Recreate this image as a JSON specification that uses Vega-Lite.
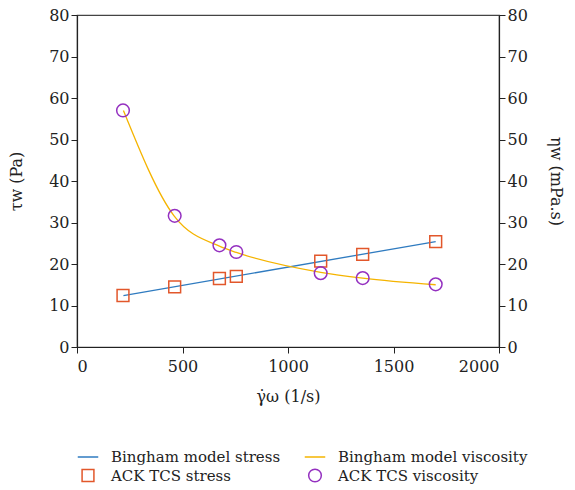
{
  "$schema": "https://vega.github.io/schema/vega-lite/v6.json",
  "autosize": {"type": "none"},
  "width": 422,
  "height": 332,
  "padding": {"left": 77, "top": 15, "right": 76, "bottom": 143},
  "background": "white",
  "config": {
    "font": "DejaVu Serif",
    "view": {"stroke": "#444", "strokeWidth": 1.2},
    "axis": {
      "grid": false,
      "domainColor": "#222",
      "domainWidth": 1.2,
      "tickColor": "#222",
      "tickSize": 6,
      "labelFont": "DejaVu Serif",
      "labelFontSize": 16,
      "labelColor": "#222",
      "titleFont": "DejaVu Serif",
      "titleFontSize": 16,
      "titleFontWeight": "normal",
      "titleColor": "#222"
    },
    "legend": {
      "labelFont": "DejaVu Serif",
      "labelFontSize": 15,
      "labelColor": "#222"
    }
  },
  "data": {
    "values": [
      {"x": 220, "v": 12.4, "series": "Bingham model stress"},
      {"x": 1700, "v": 25.4, "series": "Bingham model stress"},
      {"x": 220, "v": 57.0, "series": "Bingham model viscosity"},
      {"x": 460, "v": 31.6, "series": "Bingham model viscosity"},
      {"x": 680, "v": 24.2, "series": "Bingham model viscosity"},
      {"x": 755, "v": 22.8, "series": "Bingham model viscosity"},
      {"x": 1155, "v": 18.0, "series": "Bingham model viscosity"},
      {"x": 1354, "v": 16.6, "series": "Bingham model viscosity"},
      {"x": 1700, "v": 15.0, "series": "Bingham model viscosity"},
      {"x": 218, "v": 12.4, "series": "ACK TCS stress"},
      {"x": 463, "v": 14.5, "series": "ACK TCS stress"},
      {"x": 675, "v": 16.5, "series": "ACK TCS stress"},
      {"x": 755, "v": 17.0, "series": "ACK TCS stress"},
      {"x": 1155, "v": 20.7, "series": "ACK TCS stress"},
      {"x": 1354, "v": 22.3, "series": "ACK TCS stress"},
      {"x": 1700, "v": 25.4, "series": "ACK TCS stress"},
      {"x": 218, "v": 57.0, "series": "ACK TCS viscosity"},
      {"x": 463, "v": 31.6, "series": "ACK TCS viscosity"},
      {"x": 675, "v": 24.5, "series": "ACK TCS viscosity"},
      {"x": 755, "v": 22.9, "series": "ACK TCS viscosity"},
      {"x": 1155, "v": 17.8, "series": "ACK TCS viscosity"},
      {"x": 1354, "v": 16.6, "series": "ACK TCS viscosity"},
      {"x": 1700, "v": 15.1, "series": "ACK TCS viscosity"}
    ]
  },
  "encoding": {
    "x": {
      "field": "x", "type": "quantitative",
      "scale": {"domain": [0, 2000], "nice": false},
      "axis": {"values": [0, 500, 1000, 1500, 2000], "format": "d", "title": "γ̇ω (1/s)", "titlePadding": 14, "labelPadding": 5}
    }
  },
  "layer": [
    {
      "transform": [{"filter": "datum.series == 'Bingham model stress' || datum.series == 'ACK TCS stress'"}],
      "encoding": {
        "y": {
          "field": "v", "type": "quantitative",
          "scale": {"domain": [0, 80], "nice": false},
          "axis": {"orient": "left", "values": [0, 10, 20, 30, 40, 50, 60, 70, 80], "title": "τw (Pa)", "titlePadding": 24}
        }
      },
      "layer": [
        {
          "transform": [{"filter": "datum.series == 'Bingham model stress'"}],
          "mark": {"type": "line", "strokeWidth": 1.3, "color": "#2f7bc0"},
          "encoding": {}
        },
        {
          "transform": [{"filter": "datum.series == 'ACK TCS stress'"}],
          "mark": {"type": "point", "filled": false, "strokeWidth": 1.5, "opacity": 1},
          "encoding": {
            "color": {"field": "series", "type": "nominal",
              "scale": {"domain": ["Bingham model stress", "Bingham model viscosity", "ACK TCS stress", "ACK TCS viscosity"], "range": ["#2f7bc0", "#f5b400", "#e2572b", "#9430c0"]},
              "legend": {"orient": "bottom", "columns": 2, "title": null, "offset": 42, "columnPadding": 20, "rowPadding": 1, "labelOffset": 12, "labelLimit": 400, "labelFont": "DejaVu Serif", "labelFontSize": 15, "symbolStrokeWidth": 1.5, "symbolFillColor": "transparent"}},
            "shape": {"field": "series", "type": "nominal",
              "scale": {"domain": ["Bingham model stress", "Bingham model viscosity", "ACK TCS stress", "ACK TCS viscosity"], "range": ["stroke", "stroke", "square", "circle"]}},
            "size": {"field": "series", "type": "nominal",
              "scale": {"type": "ordinal", "domain": ["Bingham model stress", "Bingham model viscosity", "ACK TCS stress", "ACK TCS viscosity"], "range": [420, 420, 140, 160]}}
          }
        }
      ]
    },
    {
      "transform": [{"filter": "datum.series == 'Bingham model viscosity' || datum.series == 'ACK TCS viscosity'"}],
      "encoding": {
        "y": {
          "field": "v", "type": "quantitative",
          "scale": {"domain": [0, 80], "nice": false},
          "axis": {"orient": "right", "values": [0, 10, 20, 30, 40, 50, 60, 70, 80], "title": "ηw (mPa.s)", "titlePadding": 20}
        }
      },
      "layer": [
        {
          "transform": [{"filter": "datum.series == 'Bingham model viscosity'"}],
          "mark": {"type": "line", "strokeWidth": 1.3, "interpolate": "monotone", "color": "#f5b400"},
          "encoding": {}
        },
        {
          "transform": [{"filter": "datum.series == 'ACK TCS viscosity'"}],
          "mark": {"type": "point", "filled": false, "strokeWidth": 1.5, "opacity": 1},
          "encoding": {
            "color": {"field": "series", "type": "nominal",
              "scale": {"domain": ["Bingham model stress", "Bingham model viscosity", "ACK TCS stress", "ACK TCS viscosity"], "range": ["#2f7bc0", "#f5b400", "#e2572b", "#9430c0"]}},
            "shape": {"field": "series", "type": "nominal",
              "scale": {"domain": ["Bingham model stress", "Bingham model viscosity", "ACK TCS stress", "ACK TCS viscosity"], "range": ["stroke", "stroke", "square", "circle"]}},
            "size": {"field": "series", "type": "nominal",
              "scale": {"type": "ordinal", "domain": ["Bingham model stress", "Bingham model viscosity", "ACK TCS stress", "ACK TCS viscosity"], "range": [420, 420, 140, 160]}}
          }
        }
      ]
    }
  ],
  "resolve": {"scale": {"y": "independent"}}
}
